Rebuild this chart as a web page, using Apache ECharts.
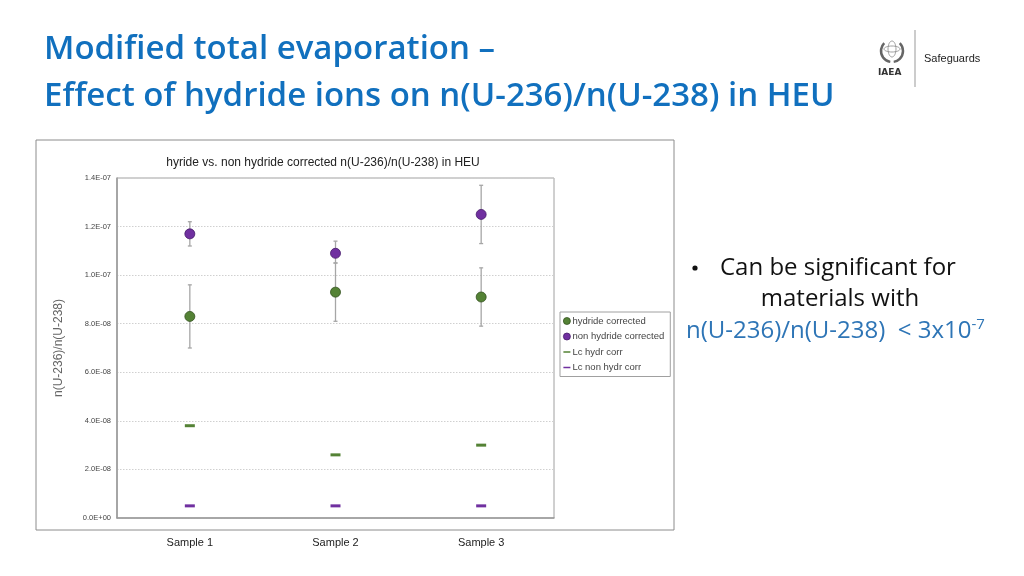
<!DOCTYPE html>
<html><head><meta charset="utf-8">
<script src="https://cdn.jsdelivr.net/npm/echarts@6/dist/echarts.min.js"></script>
<style>html,body{margin:0;padding:0;background:#fff}#c{width:1024px;height:576px}</style>
</head><body><div id="c"></div>
<script>
const categories = ['Sample 1', 'Sample 2', 'Sample 3'];
const hydrideCorrected = [8.3e-8, 9.3e-8, 9.1e-8];
const hydrideLow = [7.0e-8, 8.1e-8, 7.9e-8];
const hydrideHigh = [9.6e-8, 10.5e-8, 10.3e-8];
const nonHydrideCorrected = [1.17e-7, 1.09e-7, 1.25e-7];
const nonHydrideLow = [1.12e-7, 1.05e-7, 1.13e-7];
const nonHydrideHigh = [1.22e-7, 1.14e-7, 1.37e-7];
const lcHydrCorr = [3.8e-8, 2.6e-8, 3.0e-8];
const lcNonHydrCorr = [5e-9, 5e-9, 5e-9];

const GREEN = '#548235', PURPLE = '#7030A0';
const chartFont = 'Liberation Sans';
const slideFont = 'Open Sans';

function fmtE(v) {
  if (v === 0) return '0.0E+00';
  const e = Math.floor(Math.log10(Math.abs(v)) + 1e-9);
  const m = v / Math.pow(10, e);
  const es = (e < 0 ? '-' : '+') + String(Math.abs(e)).padStart(2, '0');
  return m.toFixed(1) + 'E' + es;
}

function errSeries(low, high) {
  return {
    type: 'custom', silent: true, z: 1,
    data: categories.map((c, i) => [i, low[i], high[i]]),
    renderItem: function (params, api) {
      const lo = api.coord([api.value(0), api.value(1)]);
      const hi = api.coord([api.value(0), api.value(2)]);
      const w = 2;
      const st = { stroke: '#a6a6a6', lineWidth: 1.3 };
      return { type: 'group', children: [
        { type: 'line', shape: { x1: lo[0], y1: lo[1], x2: hi[0], y2: hi[1] }, style: st },
        { type: 'line', shape: { x1: lo[0] - w, y1: lo[1], x2: lo[0] + w, y2: lo[1] }, style: st },
        { type: 'line', shape: { x1: hi[0] - w, y1: hi[1], x2: hi[0] + w, y2: hi[1] }, style: st }
      ]};
    }
  };
}

const dashIcon = 'path://M0,3.2L9,3.2L9,5.3L0,5.3Z M0,0L0.01,0L0.01,8.5L0,8.5Z';
const titleFont = '600 33px "' + slideFont + '"';
const bodyFont = '24px "' + slideFont + '"';

const chart = echarts.init(document.getElementById('c'));
chart.setOption({
  animation: false,
  backgroundColor: '#fff',
  title: {
    text: 'hyride vs. non hydride corrected n(U-236)/n(U-238) in HEU',
    left: 318, top: 152, textAlign: 'center',
    textStyle: { fontFamily: chartFont, fontSize: 12, fontWeight: 'normal', color: '#222' }
  },
  grid: { left: 117, right: 470, top: 178, bottom: 58, show: true, borderColor: '#a0a0a0', borderWidth: 1 },
  legend: {
    orient: 'vertical', left: 560, top: 312, width: 108,
    padding: [4, 6, 4, 3], itemGap: 5.5, itemWidth: 7, itemHeight: 7,
    borderColor: '#a0a0a0', borderWidth: 1,
    textStyle: { fontFamily: chartFont, fontSize: 9.5, color: '#444', padding: [0, 0, 0, -3] },
    data: [
      { name: 'hydride corrected', icon: 'circle', itemStyle: { color: GREEN, borderColor: '#34521f', borderWidth: 0.8 } },
      { name: 'non hydride corrected', icon: 'circle', itemStyle: { color: PURPLE, borderColor: '#45196a', borderWidth: 0.8 } },
      { name: 'Lc hydr corr', icon: dashIcon, itemStyle: { color: GREEN, borderWidth: 0 } },
      { name: 'Lc non hydr corr', icon: dashIcon, itemStyle: { color: PURPLE, borderWidth: 0 } }
    ]
  },
  xAxis: {
    type: 'category', data: categories, boundaryGap: true,
    axisLine: { show: true, lineStyle: { color: '#999', width: 1.5 } },
    axisTick: { show: false },
    axisLabel: { margin: 19, fontFamily: chartFont, fontSize: 11, color: '#222' },
    splitLine: { show: false }
  },
  yAxis: {
    type: 'value', min: 0, max: 1.4e-7, interval: 2e-8,
    name: 'n(U-236)/n(U-238)', nameLocation: 'middle', nameGap: 52, nameRotate: 90,
    nameTextStyle: { fontFamily: chartFont, fontSize: 12, color: '#666' },
    axisLine: { show: true, lineStyle: { color: '#999', width: 1.5 } },
    axisTick: { show: false },
    axisLabel: { margin: 6, fontFamily: chartFont, fontSize: 7.5, color: '#444', formatter: v => fmtE(v) },
    splitLine: { show: true, lineStyle: { color: '#d0d0d0', type: [1.5, 1.5], width: 1 } }
  },
  series: [
    errSeries(hydrideLow, hydrideHigh),
    errSeries(nonHydrideLow, nonHydrideHigh),
    { name: 'hydride corrected', type: 'scatter', z: 3, data: hydrideCorrected, symbol: 'circle', symbolSize: 10,
      itemStyle: { color: GREEN, borderColor: '#34521f', borderWidth: 0.8, opacity: 1 } },
    { name: 'non hydride corrected', type: 'scatter', z: 3, data: nonHydrideCorrected, symbol: 'circle', symbolSize: 10,
      itemStyle: { color: PURPLE, borderColor: '#45196a', borderWidth: 0.8, opacity: 1 } },
    { name: 'Lc hydr corr', type: 'scatter', z: 3, data: lcHydrCorr, symbol: 'rect', symbolSize: [10, 3],
      itemStyle: { color: GREEN, opacity: 1 } },
    { name: 'Lc non hydr corr', type: 'scatter', z: 3, data: lcNonHydrCorr, symbol: 'rect', symbolSize: [10, 3],
      itemStyle: { color: PURPLE, opacity: 1 } }
  ],
  graphic: [
    { type: 'rect', shape: { x: 36, y: 140, width: 638, height: 390 }, style: { fill: 'none', stroke: '#8c8c8c', lineWidth: 1 }, z: 0, silent: true },
    { type: 'text', x: 44, y: 50, style: { text: 'Modified total evaporation –', font: titleFont, fill: '#1170BE', verticalAlign: 'middle' } },
    { type: 'text', x: 44, y: 97, style: { text: 'Effect of hydride ions on n(U-236)/n(U-238) in HEU', font: titleFont, fill: '#1170BE', verticalAlign: 'middle' } },
    // IAEA logo approximation
    { type: 'arc', shape: { cx: 892, cy: 51, r: 11, startAngle: Math.PI * 0.55, endAngle: Math.PI * 1.25 }, style: { stroke: '#666', lineWidth: 2.5, fill: 'none' } },
    { type: 'arc', shape: { cx: 892, cy: 51, r: 11, startAngle: -Math.PI * 0.25, endAngle: Math.PI * 0.45 }, style: { stroke: '#666', lineWidth: 2.5, fill: 'none' } },
    { type: 'ellipse', shape: { cx: 892, cy: 49, rx: 4, ry: 8 }, style: { stroke: '#888', lineWidth: 0.8, fill: 'none' } },
    { type: 'ellipse', shape: { cx: 892, cy: 49, rx: 8, ry: 3 }, style: { stroke: '#888', lineWidth: 0.8, fill: 'none' } },
    { type: 'text', left: 878, top: 68, style: { text: 'IAEA', font: 'bold 9px "DejaVu Sans"', fill: '#333' } },
    { type: 'line', shape: { x1: 915, y1: 30, x2: 915, y2: 87 }, style: { stroke: '#999', lineWidth: 1 } },
    { type: 'text', left: 924, top: 53, style: { text: 'Safeguards', font: '11px "Liberation Sans"', fill: '#222' } },
    // bullet text
    { type: 'circle', shape: { cx: 695, cy: 268, r: 2.6 }, style: { fill: '#111' } },
    { type: 'text', x: 720, y: 268, style: { text: 'Can be significant for', font: bodyFont, fill: '#111', verticalAlign: 'middle' } },
    { type: 'text', x: 840, y: 299, style: { text: 'materials with', font: bodyFont, fill: '#111', align: 'center', verticalAlign: 'middle' } },
    { type: 'text', x: 686, y: 331, style: {
      verticalAlign: 'middle',
      text: '{b|n(U-236)/n(U-238)  < 3x10}{s|-7}',
      rich: {
        b: { font: bodyFont, fill: '#2E75B6', color: '#2E75B6' },
        s: { font: '15px "' + slideFont + '"', fill: '#2E75B6', color: '#2E75B6', verticalAlign: 'top', padding: [0, 0, 12, 0] }
      }
    } }
  ]
});
</script>
</body></html>
